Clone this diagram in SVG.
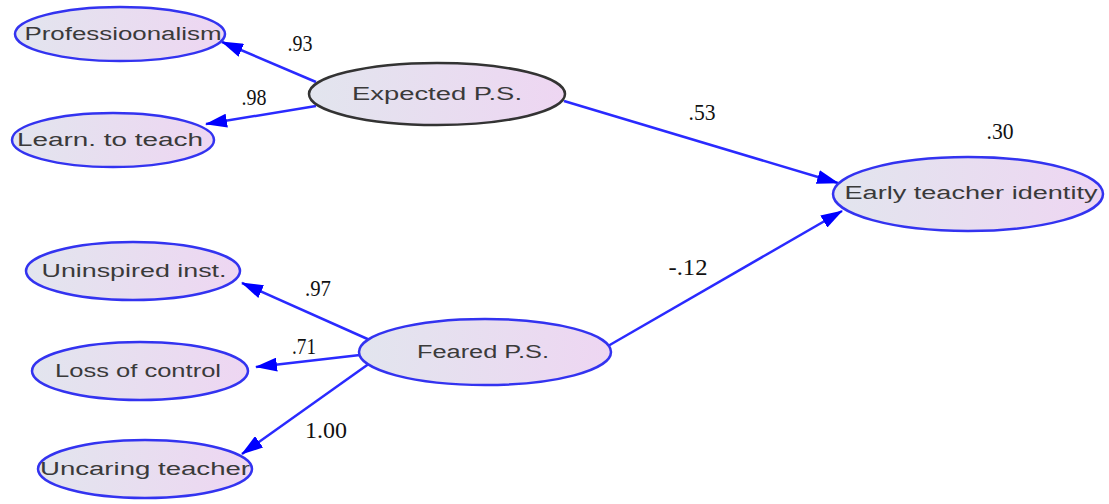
<svg xmlns="http://www.w3.org/2000/svg" width="1109" height="504" viewBox="0 0 1109 504">
  <defs>
    <linearGradient id="fillGrad" x1="0" y1="0" x2="1" y2="0">
      <stop offset="0" stop-color="#e2e5ee"/>
      <stop offset="1" stop-color="#eed6f2"/>
    </linearGradient>
    <marker id="arrow" viewBox="0 0 22 14" refX="21" refY="7" markerWidth="22" markerHeight="14" markerUnits="userSpaceOnUse" orient="auto">
      <path d="M0,0 L22,7 L0,14 Z" fill="#0000ff"/>
    </marker>
  </defs>
  <style>
    .node ellipse { fill: url(#fillGrad); stroke: #3333f0; stroke-width: 2.5; }
    .node.latent-dark ellipse { stroke: #333333; }
    .node text { font-family: "Liberation Sans", Arial, sans-serif; font-size: 18px; fill: #3a3a3a; text-anchor: middle; }
    .edge { stroke: #2a2aff; stroke-width: 2.5; fill: none; marker-end: url(#arrow); }
    .coef { font-family: "Liberation Serif", "Times New Roman", serif; font-size: 24px; fill: #111111; text-anchor: middle; }
  </style>

  <rect width="1109" height="504" fill="#ffffff"/>

  <!-- paths -->
  <g id="connectors">
    <line class="edge" x1="316" y1="82" x2="222" y2="42"/>
    <line class="edge" x1="316" y1="106" x2="206" y2="124"/>
    <line class="edge" x1="564" y1="101" x2="838" y2="183"/>
    <line class="edge" x1="608" y1="346" x2="842" y2="211"/>
    <line class="edge" x1="372" y1="341" x2="242" y2="283"/>
    <line class="edge" x1="360" y1="355" x2="256" y2="367"/>
    <line class="edge" x1="370" y1="363" x2="242" y2="454"/>
  </g>

  <!-- path coefficients -->
  <g id="coefficients">
    <text class="coef" x="300" y="51" textLength="25" lengthAdjust="spacingAndGlyphs">.93</text>
    <text class="coef" x="254" y="105" textLength="25" lengthAdjust="spacingAndGlyphs">.98</text>
    <text class="coef" x="702" y="120" textLength="27" lengthAdjust="spacingAndGlyphs">.53</text>
    <text class="coef" x="1000" y="139" textLength="27" lengthAdjust="spacingAndGlyphs">.30</text>
    <text class="coef" x="688" y="275" textLength="39" lengthAdjust="spacingAndGlyphs">-.12</text>
    <text class="coef" x="318" y="296" textLength="26" lengthAdjust="spacingAndGlyphs">.97</text>
    <text class="coef" x="304" y="354" textLength="24" lengthAdjust="spacingAndGlyphs">.71</text>
    <text class="coef" x="326" y="438" textLength="42" lengthAdjust="spacingAndGlyphs">1.00</text>
  </g>

  <g id="professionalism" class="node">
    <ellipse cx="120" cy="34" rx="105" ry="27"/>
    <text x="123" y="40" textLength="197" lengthAdjust="spacingAndGlyphs">Professioonalism</text>
  </g>
  <g id="learn-to-teach" class="node">
    <ellipse cx="113" cy="140" rx="101" ry="27"/>
    <text x="110" y="146" textLength="186" lengthAdjust="spacingAndGlyphs">Learn. to teach</text>
  </g>
  <g id="expected-ps" class="node latent-dark">
    <ellipse cx="437" cy="94" rx="128" ry="31"/>
    <text x="437" y="100" textLength="170" lengthAdjust="spacingAndGlyphs">Expected P.S.</text>
  </g>
  <g id="early-teacher-identity" class="node">
    <ellipse cx="968" cy="194" rx="135" ry="37"/>
    <text x="971" y="199" textLength="253" lengthAdjust="spacingAndGlyphs">Early teacher identity</text>
  </g>
  <g id="uninspired-inst" class="node">
    <ellipse cx="133" cy="271" rx="107" ry="29"/>
    <text x="134" y="277" textLength="185" lengthAdjust="spacingAndGlyphs">Uninspired inst.</text>
  </g>
  <g id="loss-of-control" class="node">
    <ellipse cx="140" cy="371" rx="108" ry="29"/>
    <text x="138" y="377" textLength="166" lengthAdjust="spacingAndGlyphs">Loss of control</text>
  </g>
  <g id="uncaring-teacher" class="node">
    <ellipse cx="145" cy="469" rx="107" ry="29"/>
    <text x="145" y="475" textLength="210" lengthAdjust="spacingAndGlyphs">Uncaring teacher</text>
  </g>
  <g id="feared-ps" class="node">
    <ellipse cx="485" cy="352" rx="126" ry="33"/>
    <text x="483" y="358" textLength="132" lengthAdjust="spacingAndGlyphs">Feared P.S.</text>
  </g>
</svg>
